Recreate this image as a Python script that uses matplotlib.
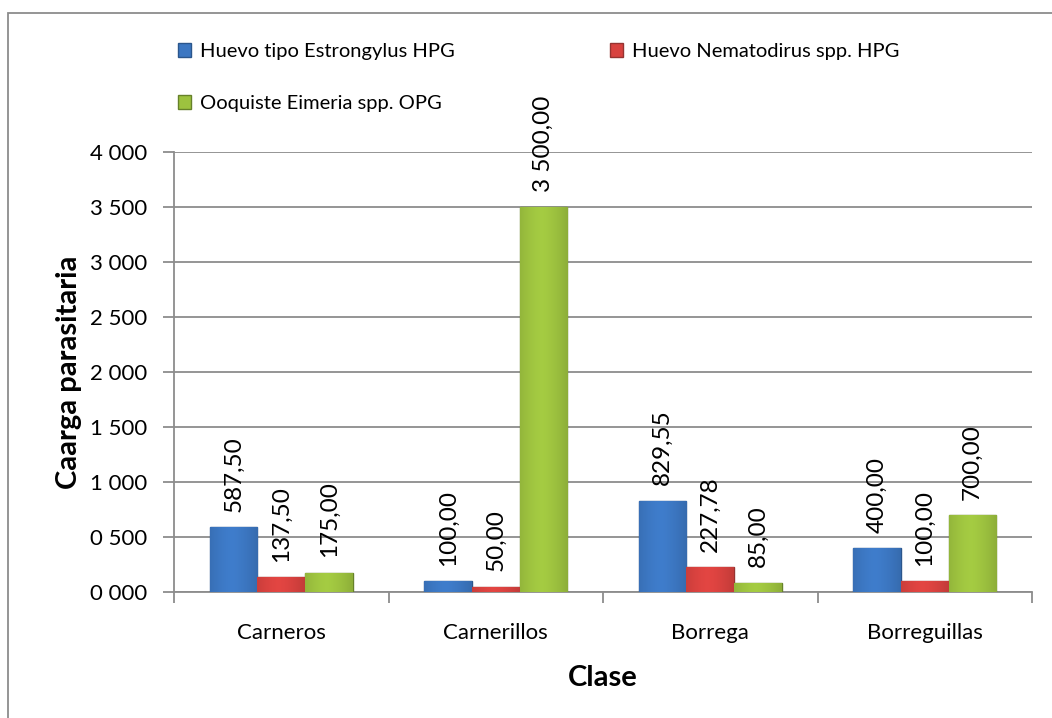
import matplotlib
matplotlib.use('Agg')
import matplotlib.pyplot as plt
import numpy as np
from matplotlib.colors import to_rgb
from matplotlib.patches import Rectangle

plt.rcParams['font.family'] = ['Lato', 'DejaVu Sans']

categorias = ['Carneros', 'Carnerillos', 'Borrega', 'Borreguillas']
series = ['Huevo tipo Estrongylus HPG', 'Huevo Nematodirus spp. HPG', 'Ooquiste Eimeria spp. OPG']
estrongylus = [587.50, 100.00, 829.55, 400.00]
nematodirus = [137.50, 50.00, 227.78, 100.00]
eimeria = [175.00, 3500.00, 85.00, 700.00]

colores = ['#3C77C2', '#D8423F', '#9DC23F']
bordes = ['#2B568C', '#963331', '#66812A']


def fmt_tick(v):
    v = int(round(v))
    return f"{v // 1000} {v % 1000:03d}"


def fmt_val(v):
    s = f"{v:,.2f}".replace(',', ' ').replace('.', ',')
    return s


fig = plt.figure(figsize=(10.52, 7.18), dpi=100)
ax = fig.add_axes([174 / 1052, 1 - 592 / 718, (1032 - 174) / 1052, (592 - 152) / 718])

# outer chart frame
fig.patches.append(Rectangle((8 / 1052, -0.1), 1.2, 1 - 13 / 718 + 0.1, transform=fig.transFigure,
                             fill=False, edgecolor='#8C8C8C', linewidth=1.3, zorder=0))

x = np.arange(len(categorias))
w = 1 / 4.5
datos = [estrongylus, nematodirus, eimeria]
handles = []
for i, vals in enumerate(datos):
    pos = x + (i - 1) * w
    bars = ax.bar(pos, vals, width=w, color=colores[i], edgecolor=bordes[i], linewidth=1.0,
                  label=series[i], zorder=3)
    handles.append(bars)
    base = np.array(to_rgb(colores[i]))
    for b, v in zip(bars, vals):
        # soft shading to mimic the bevelled look
        grad = np.linspace(0, 1, 50)
        shade = 1 - 0.35 * np.abs(grad - 0.45) ** 1.5
        img = np.clip(base[None, None, :] * shade[None, :, None] * 1.05, 0, 1)
        im = ax.imshow(img, extent=(b.get_x(), b.get_x() + b.get_width(), 0, b.get_height()),
                       aspect='auto', zorder=3.5, interpolation='bilinear')
        im.set_clip_path(b)
        ax.annotate(fmt_val(v), (b.get_x() + b.get_width() / 2, v), xytext=(0, 11),
                    textcoords='offset points', rotation=90, ha='center', va='bottom',
                    fontsize=17.5, color='black', zorder=5)

ax.set_xlim(-0.5, len(categorias) - 0.5)
ax.set_ylim(0, 4000)
ax.set_yticks(np.arange(0, 4001, 500))
ax.set_yticklabels([fmt_tick(v) for v in np.arange(0, 4001, 500)])
ax.set_xticks(x)
ax.set_xticklabels(categorias)
ax.set_xticks(np.arange(-0.5, len(categorias)), minor=True)
ax.tick_params(axis='x', which='major', length=0, labelsize=16, pad=22)
ax.tick_params(axis='x', which='minor', length=8, color='#8C8C8C', width=1.3)
ax.tick_params(axis='y', length=8, color='#8C8C8C', width=1.3, labelsize=16, pad=11)
ax.grid(axis='y', color='#8C8C8C', linewidth=1.3, zorder=0)
ax.set_axisbelow(True)
for s in ['top', 'right']:
    ax.spines[s].set_visible(False)
for s in ['left', 'bottom']:
    ax.spines[s].set_color('#8C8C8C')
    ax.spines[s].set_linewidth(1.3)

ax.set_xlabel('Clase', fontsize=21, fontweight='bold', labelpad=16)
ax.set_ylabel('Caarga parasitaria', fontsize=21, fontweight='bold', labelpad=6)

# legend filled row by row: blue, red / green
orden = [0, 2, 1]
fig.legend([handles[k] for k in orden], [series[k] for k in orden], ncol=2, loc='upper left',
           bbox_to_anchor=(178 / 1052, 1 - 43 / 718), frameon=False, fontsize=14.5,
           handlelength=0.65, handleheight=0.65, handletextpad=0.45, borderpad=0,
           borderaxespad=0, columnspacing=7.7, labelspacing=1.75)

fig.savefig('out.png', dpi=100)
